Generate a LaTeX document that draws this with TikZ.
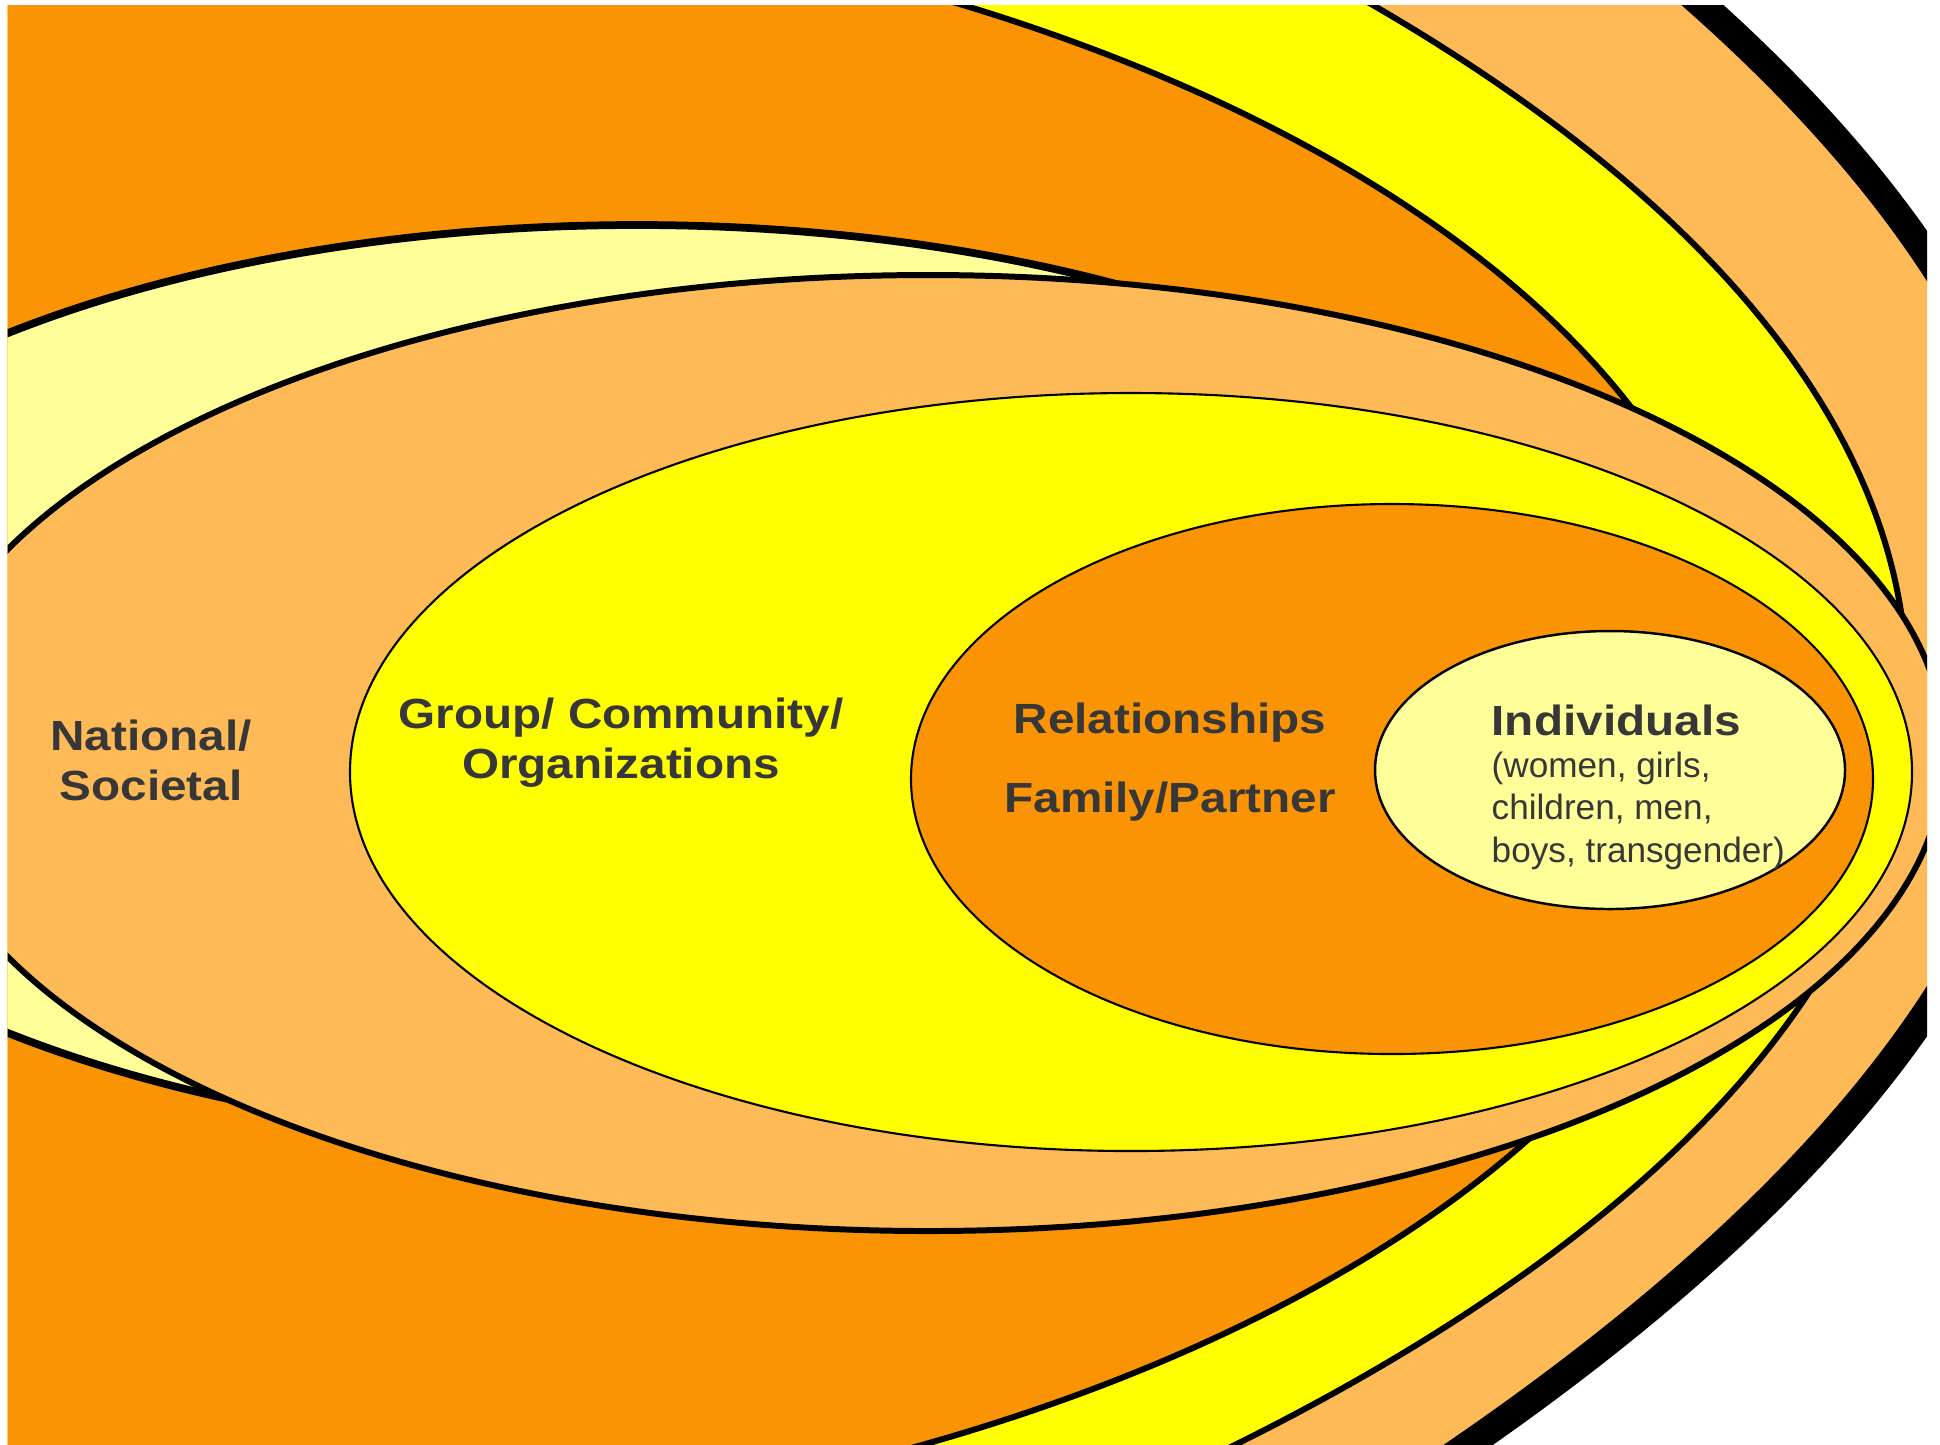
\documentclass[tikz,border=0pt]{standalone}
\usepackage{fontspec}
\setmainfont{Liberation Sans}
\newfontfamily\ringfont[FakeStretch=1.13]{Liberation Sans}
\definecolor{ringorange}{RGB}{250,148,5}
\definecolor{ringpeach}{RGB}{255,186,88}
\definecolor{ringyellow}{RGB}{255,255,0}
\definecolor{ringpale}{RGB}{255,255,153}
\definecolor{textgray}{RGB}{55,55,55}
\begin{document}
\begin{tikzpicture}[x=0.01cm,y=-0.01cm]
            \tikzstyle{ringline}=[draw=black,line width=1.7pt]
            \tikzstyle{thinline}=[draw=black,line width=0.6pt]
            \tikzstyle{ringtext}=[text=textgray,font=\ringfont\bfseries\fontsize{12}{14.2}\selectfont,align=center,anchor=base,inner sep=0pt]
            \useasboundingbox (0,0) rectangle (1940,1444);
            \clip (7.5,5.7) rectangle (1927,1444);
            % outer rings
            \filldraw[ringline,fill=ringpeach,line width=8pt]
                (1626,-60) .. controls (2268,460) and (2188,980) .. (1386,1500)
                -- (1386,1600) -- (-300,1600) -- (-300,-60) -- cycle;
            \filldraw[ringline,fill=ringyellow] (-1309,688) ellipse [x radius=3216, y radius=1237];
            \filldraw[ringline,fill=ringorange] (186,719) ellipse [x radius=1561, y radius=823];
            \filldraw[ringline,fill=ringpale,line width=2.2pt] (637,683) ellipse [x radius=975, y radius=458];
            % national / societal
            \filldraw[ringline,fill=ringpeach] (928,753) ellipse [x radius=1017, y radius=478];
            % community
            \filldraw[thinline,fill=ringyellow] (1131,772) ellipse [x radius=781, y radius=379];
            % relationships
            \filldraw[thinline,fill=ringorange] (1392,779) ellipse [x radius=481, y radius=275];
            % individuals
            \filldraw[thinline,fill=ringpale,line width=0.7pt] (1610,770) ellipse [x radius=235, y radius=139];
            % labels
            \node[ringtext] (national) at (151,800) {National/\\Societal};
            \node[ringtext] (community) at (621,778) {Group/ Community/\\Organizations};
            \node[ringtext] (relation) at (1170,812) {Relationships\\[8pt]Family/Partner};
            \node[text=textgray,font=\fontsize{10}{12}\selectfont,align=left,anchor=base west,inner sep=0pt] (individual) at (1491,862)
                {{\ringfont\bfseries\fontsize{12}{12}\selectfont Individuals}\\(women, girls,\\children, men,\\boys, transgender)};
        \end{tikzpicture}
\end{document}
